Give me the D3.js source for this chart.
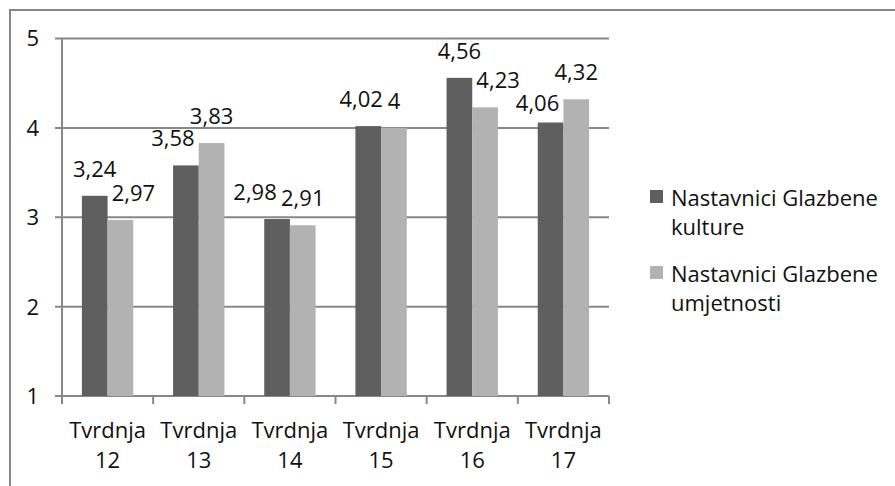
<!DOCTYPE html>
<html>
<head>
<meta charset="utf-8">
<script src="https://cdn.jsdelivr.net/npm/d3@7"></script>
<style>
  html, body { margin: 0; padding: 0; background: #fff; overflow: hidden; }
  svg { display: block; font-family: 'Open Sans', sans-serif; }
  text { fill: #111; }
</style>
</head>
<body>
<div id="container"></div>
<script>
const width = 895;
const height = 486;

const categories = ['Tvrdnja 12', 'Tvrdnja 13', 'Tvrdnja 14', 'Tvrdnja 15', 'Tvrdnja 16', 'Tvrdnja 17'];
const seriesNames = ['Nastavnici Glazbene kulture', 'Nastavnici Glazbene umjetnosti'];
const kultura = [3.24, 3.58, 2.98, 4.02, 4.56, 4.06];
const umjetnost = [2.97, 3.83, 2.91, 4, 4.23, 4.32];
const yTicks = [1, 2, 3, 4, 5];
const colors = ['#5f5f5f', '#b2b2b2'];

const margin = {left: 62, right: 286, top: 38.5, bottom: 90};
const fontSize = 22;
const gridColor = '#878787';

function render() {
  const series = [kultura, umjetnost];

  const svg = d3.select('#container').append('svg')
    .attr('width', width)
    .attr('height', height);

  // outer frame (only top and left edges visible in the picture)
  svg.append('rect')
    .attr('x', 10).attr('y', 10)
    .attr('width', 1000).attr('height', 1000)
    .attr('fill', 'none')
    .attr('stroke', gridColor)
    .attr('stroke-width', 2);

  const x = d3.scaleBand()
    .domain(categories)
    .range([margin.left, width - margin.right])
    .padding(0);

  const x1 = d3.scaleBand()
    .domain(d3.range(series.length))
    .range([0, x.bandwidth()])
    .paddingInner(0)
    .paddingOuter(0.775);

  const y = d3.scaleLinear()
    .domain([1, 5])
    .range([height - margin.bottom, margin.top]);

  const x0 = margin.left;
  const xEnd = width - margin.right;

  // horizontal gridlines, extending left as tick marks
  svg.append('g')
    .selectAll('line')
    .data(yTicks)
    .join('line')
    .attr('x1', x0 - 7)
    .attr('x2', xEnd)
    .attr('y1', d => y(d))
    .attr('y2', d => y(d))
    .attr('stroke', gridColor)
    .attr('stroke-width', 2);

  // y axis line
  svg.append('line')
    .attr('x1', x0).attr('x2', x0)
    .attr('y1', y(5)).attr('y2', y(1))
    .attr('stroke', gridColor)
    .attr('stroke-width', 2);

  // y tick labels
  svg.append('g')
    .selectAll('text')
    .data(yTicks)
    .join('text')
    .attr('x', x0 - 23)
    .attr('y', d => y(d))
    .attr('dy', '0.36em')
    .attr('text-anchor', 'end')
    .style('font-size', fontSize + 'px')
    .text(d => d);

  // x tick marks at category boundaries
  const bounds = categories.map(c => x(c)).concat([xEnd]);
  svg.append('g')
    .selectAll('line')
    .data(bounds)
    .join('line')
    .attr('x1', d => d).attr('x2', d => d)
    .attr('y1', y(1)).attr('y2', y(1) + 8)
    .attr('stroke', gridColor)
    .attr('stroke-width', 2);

  // x labels on two lines
  const xl = svg.append('g')
    .selectAll('text')
    .data(categories)
    .join('text')
    .attr('text-anchor', 'middle')
    .style('font-size', fontSize + 'px');
  xl.selectAll('tspan')
    .data(c => c.split(' ').map(t => ({t, c})))
    .join('tspan')
    .attr('x', d => x(d.c) + x.bandwidth() / 2)
    .attr('y', (d, i) => 438 + i * 30)
    .text(d => d.t);

  // bars
  const bars = [];
  series.forEach((vals, s) => {
    vals.forEach((v, i) => {
      bars.push({s, i, v,
        x: x(categories[i]) + x1(s),
        w: x1.bandwidth(),
        top: y(v),
        bottom: y(1)});
    });
  });

  svg.append('g')
    .selectAll('rect')
    .data(bars)
    .join('rect')
    .attr('x', d => d.x)
    .attr('y', d => d.top)
    .attr('width', d => d.w)
    .attr('height', d => d.bottom - d.top)
    .attr('fill', d => colors[d.s]);

  // value labels, nudged away from bars and from each other
  const fmt = v => String(v).replace('.', ',');
  const labelG = svg.append('g');
  const pad = 4;
  const placed = [];
  const order = bars.slice().sort((a, b) => (b.s - a.s) || (a.i - b.i));

  const hit = (a, b) => a.x0 < b.x1 + pad && a.x1 + pad > b.x0 && a.y0 < b.y1 + pad && a.y1 + pad > b.y0;
  const barBoxes = bars.map(b => ({x0: b.x, x1: b.x + b.w, y0: b.top, y1: b.bottom}));

  order.forEach(b => {
    const t = labelG.append('text')
      .attr('text-anchor', 'middle')
      .style('font-size', fontSize + 'px')
      .text(fmt(b.v));
    const tw = t.node().getComputedTextLength();
    const cx = b.x + b.w / 2;
    const base = b.top - 19;
    const boxAt = (dx, dy) => ({
      x0: cx + dx - tw / 2, x1: cx + dx + tw / 2,
      y0: base + dy - 16, y1: base + dy + 2
    });
    let best = null;
    for (let dy = -40; dy <= 20; dy++) {
      for (let dx = -40; dx <= 40; dx++) {
        const cost = Math.hypot(dx, 1.5 * dy);
        if (best && cost >= best.cost) continue;
        const box = boxAt(dx, dy);
        if (barBoxes.some(o => hit(box, o))) continue;
        if (placed.some(o => hit(box, o))) continue;
        best = {dx, dy, cost};
      }
    }
    if (!best) best = {dx: 0, dy: 0};
    placed.push(boxAt(best.dx, best.dy));
    t.attr('x', cx + best.dx).attr('y', base + best.dy);
  });

  // legend
  const legend = svg.append('g')
    .selectAll('g')
    .data(seriesNames)
    .join('g')
    .attr('transform', (d, i) => `translate(650, ${206 + i * 76})`);

  legend.append('rect')
    .attr('x', 0)
    .attr('y', -16)
    .attr('width', 13)
    .attr('height', 13)
    .attr('fill', (d, i) => colors[i]);

  const lt = legend.append('text')
    .style('font-size', fontSize + 'px');
  lt.selectAll('tspan')
    .data(d => {
      const words = d.split(' ');
      return [words.slice(0, 2).join(' '), words.slice(2).join(' ')];
    })
    .join('tspan')
    .attr('x', 21)
    .attr('y', (d, i) => i * 29)
    .text(d => d);
}

window.addEventListener('load', render);
</script>
</body>
</html>
